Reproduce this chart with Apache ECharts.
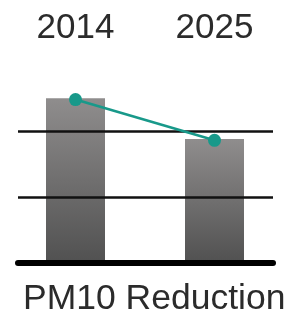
<!DOCTYPE html>
<html>
<head>
<meta charset="utf-8">
<script src="https://cdn.jsdelivr.net/npm/echarts@6/dist/echarts.min.js"></script>
<style>
  html, body { margin: 0; padding: 0; background: #fff; }
  #chart { width: 290px; height: 329px; }
</style>
</head>
<body>
<div id="chart"></div>
<script>
const years = ['2014', '2025'];
const barValues = [2.5, 1.88];
const lineValues = [2.48, 1.86];
const refLines = [0, 1, 2];

const chart = echarts.init(document.getElementById('chart'));

chart.setOption({
  animation: false,
  title: {
    text: 'PM10 Reduction',
    left: 18,
    top: 276,
    textStyle: {
      fontFamily: 'Liberation Sans',
      fontSize: 35.5,
      fontWeight: 'normal',
      color: '#2b2b2b'
    }
  },
  grid: [
    // reference lines
    { left: 18, right: 17, top: 131.1, bottom: 66.5, z: 4 },
    // bars + line
    { left: 6, right: 6, top: 65.4, bottom: 66.5 }
  ],
  xAxis: [
    {
      gridIndex: 0,
      type: 'category',
      data: years,
      z: 4,
      axisLine: { show: true, lineStyle: { color: '#000', width: 6 } },
      axisTick: { show: false },
      axisLabel: { show: false }
    },
    {
      gridIndex: 1,
      type: 'category',
      data: years,
      position: 'top',
      axisLine: { show: false },
      axisTick: { show: false },
      axisLabel: {
        margin: 20,
        fontFamily: 'Liberation Sans',
        fontSize: 35,
        color: '#2b2b2b'
      }
    }
  ],
  yAxis: [
    {
      gridIndex: 0,
      type: 'value',
      min: refLines[0],
      max: refLines[refLines.length - 1],
      interval: 1,
      z: 4,
      axisLine: { show: false },
      axisLabel: { show: false },
      axisTick: { show: false },
      splitLine: { lineStyle: { color: '#111', width: 2.5 } }
    },
    {
      gridIndex: 1,
      type: 'value',
      min: 0,
      max: 3,
      interval: 1,
      show: false,
      splitLine: { show: false }
    }
  ],
  series: [
    {
      type: 'bar',
      xAxisIndex: 1,
      yAxisIndex: 1,
      data: barValues,
      barWidth: 59,
      z: 1,
      itemStyle: {
        color: new echarts.graphic.LinearGradient(0, 0, 0, 1, [
          { offset: 0, color: '#8f8d8d' },
          { offset: 1, color: '#515151' }
        ])
      }
    },
    {
      type: 'line',
      xAxisIndex: 1,
      yAxisIndex: 1,
      data: lineValues,
      symbol: 'circle',
      symbolSize: 13,
      z: 8,
      lineStyle: { color: '#18998a', width: 2.5 },
      itemStyle: { color: '#18998a' }
    }
  ]
});
</script>
</body>
</html>
